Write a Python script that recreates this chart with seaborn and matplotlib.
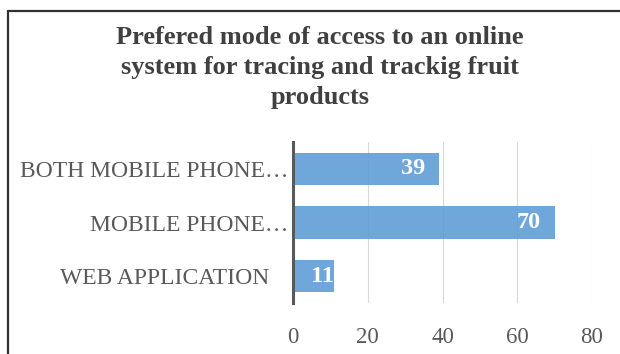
import matplotlib
matplotlib.use("Agg")
import matplotlib.pyplot as plt
import matplotlib.transforms as mtransforms
from matplotlib.lines import Line2D
import seaborn as sns
import pandas as pd

# Survey data
categories = ["BOTH MOBILE PHONE…", "MOBILE PHONE…", "WEB APPLICATION"]
responses = [39, 70, 11]
x_ticks = [0, 20, 40, 60, 80]

title = "Prefered mode of access to an online\nsystem for tracing and trackig fruit\nproducts"

sns.set_theme(style="white")
plt.rcParams["font.family"] = ["Liberation Serif", "DejaVu Serif"]

df = pd.DataFrame({"mode": categories, "count": responses})

fig = plt.figure(figsize=(6.2, 3.54), dpi=100)
ax = fig.add_axes([293 / 620, 1 - 303 / 354, (592 - 293) / 620, (303 - 142) / 354])

ax.set_axisbelow(True)
ax.grid(axis="x", color="#d9d9d9", linewidth=0.8)
ax.grid(axis="y", visible=False)

sns.barplot(data=df, y="mode", x="count", order=categories, orient="h",
            color="#5B9BD5", alpha=0.88, width=0.6, saturation=1,
            edgecolor="none", ax=ax)

ax.set_xlim(0, 80)
ax.set_ylim(2.5, -0.5)
ax.set_xticks(x_ticks)
ax.set_xticklabels([str(t) for t in x_ticks])
ax.set_xlabel("")
ax.set_ylabel("")

for side in ["top", "right", "bottom"]:
    ax.spines[side].set_visible(False)
ax.spines["left"].set_color("#595959")
ax.spines["left"].set_linewidth(2.2)

ax.tick_params(axis="x", length=0, pad=17, labelsize=16.5, labelcolor="#595959")
ax.tick_params(axis="y", length=0, pad=17, labelsize=17, labelcolor="#595959")

# let the trailing ellipsis of shortened labels hang past the label column
shift = mtransforms.ScaledTranslation(19 / 100, 0, fig.dpi_scale_trans)
for lab in ax.get_yticklabels():
    if lab.get_text().endswith("…"):
        lab.set_transform(lab.get_transform() + shift)

# value labels at the inner end of each bar
for i, v in enumerate(responses):
    off = -14 if v > 20 else 0
    ax.annotate(str(v), xy=(v, i), xytext=(off * 0.72, 0), textcoords="offset points",
                ha="right", va="center", color="white", fontsize=17.5,
                fontweight="bold")

fig.text(320 / 620, 1 - 26 / 354, title, ha="center", va="top",
         fontsize=19, fontweight="bold", color="#404040", linespacing=1.38)

# chart frame
fig.add_artist(Line2D([8 / 620, 8 / 620], [0, 1 - 11 / 354], transform=fig.transFigure,
                      color="#303030", linewidth=1.6))
fig.add_artist(Line2D([8 / 620, 1], [1 - 11 / 354, 1 - 11 / 354], transform=fig.transFigure,
                      color="#303030", linewidth=1.6))

fig.savefig("out.png", dpi=100)
